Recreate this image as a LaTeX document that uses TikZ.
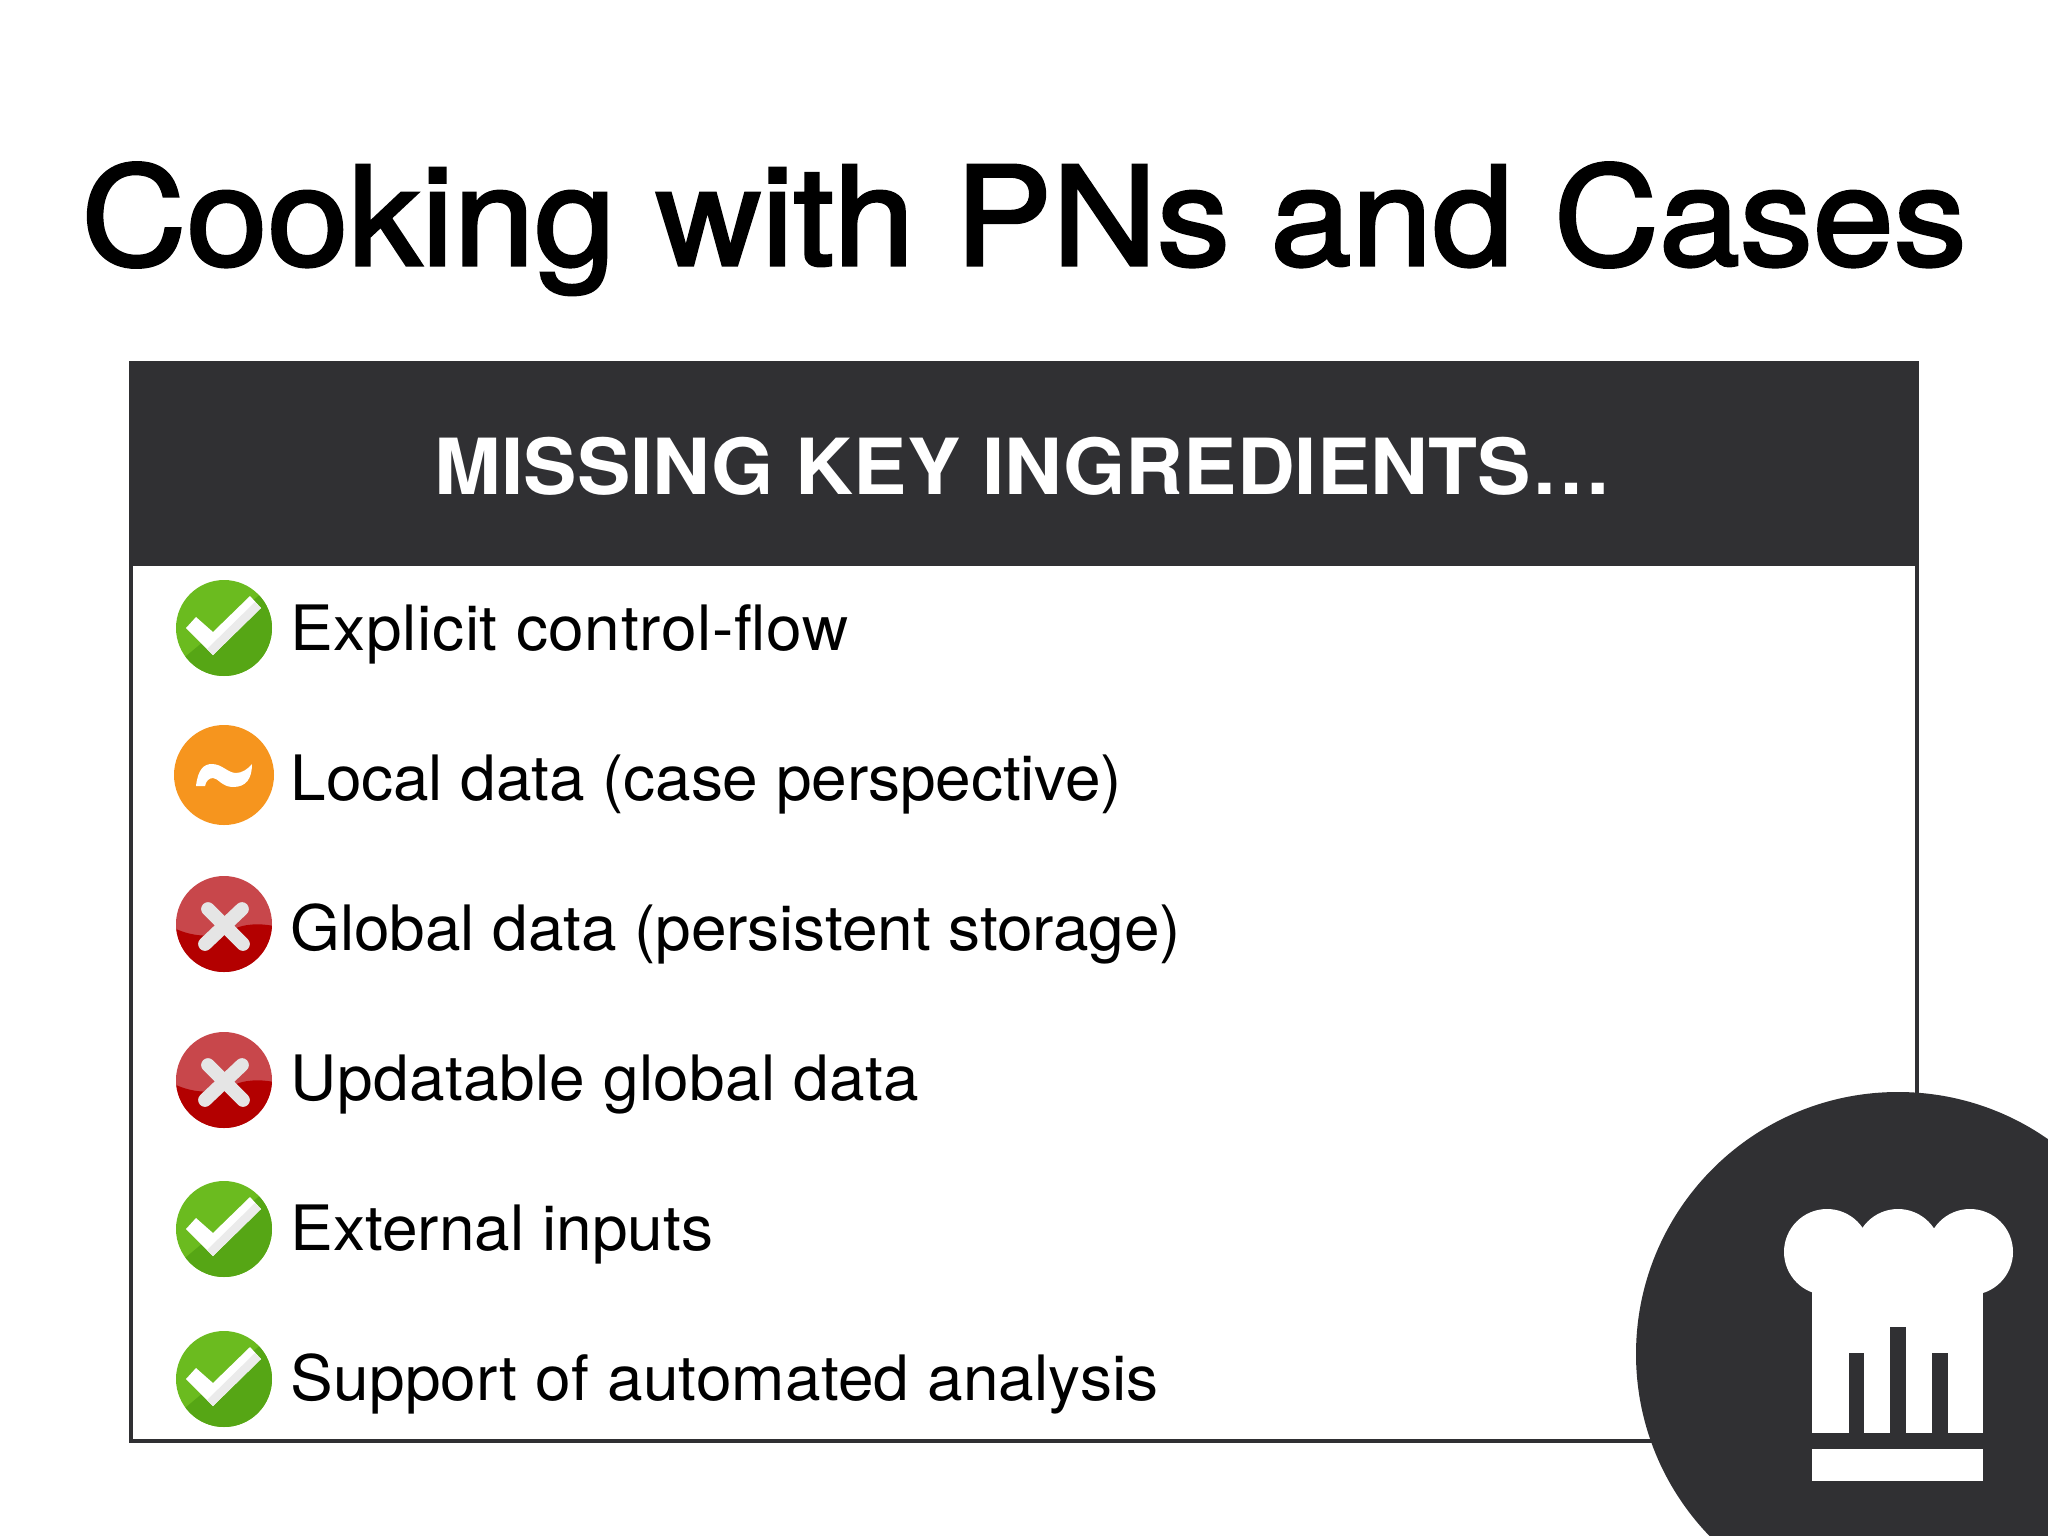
\documentclass[tikz,border=0pt]{standalone}
\usepackage{fontspec}
\setmainfont[FakeStretch=1.022]{TeX Gyre Heros}
\newfontfamily\titlefont[FakeStretch=1.062, FakeBold=2.2]{TeX Gyre Heros}
\newfontfamily\headerfont[FakeStretch=1.035]{TeX Gyre Heros Bold}
\definecolor{chefgray}{HTML}{303033}
\definecolor{okdark}{HTML}{56A615}
\definecolor{oklight}{HTML}{6BBB1F}
\definecolor{halforange}{HTML}{F6951E}
\definecolor{nodark}{HTML}{B30000}
\definecolor{nolight}{HTML}{C8474B}
\tikzset{
  itemtext/.style={anchor=base west, inner sep=0pt, font=\fontsize{17.8}{21}\selectfont},
  okicon/.pic={
    \begin{scope}
      \clip (0,0) circle [radius=48];
      \fill[oklight] (-48,-48) rectangle (48,48);
      \fill[okdark] (-62,48) -- (62,-55) -- (62,62) -- (-62,62) -- cycle;
    \end{scope}
    \fill[white] (-38,0) -- (-28,-11) -- (-11,4) -- (26,-32) -- (37,-20) -- (-11,27) -- cycle;
    \fill[black!8] (-11,27) -- (37,-20) -- (31,-26) -- (-17,21) -- cycle;
  },
  halficon/.pic={
    \fill[halforange] (0,0) circle [radius=50];
    \fill[white] (-28,11) .. controls (-26,-6) and (-20,-11) .. (-12,-11)
      .. controls (-2,-11) and (4,-2) .. (12,-2) .. controls (18,-2) and (24,-6) .. (28,-11)
      .. controls (28,4) and (22,12) .. (9,12) .. controls (-2,12) and (-6,3) .. (-11,3)
      .. controls (-15,3) and (-18,6) .. (-19,11) -- cycle;
  },
  noicon/.pic={
    \fill[nolight] (0,0) circle [radius=48];
    \begin{scope}
      \clip (0,0) circle [radius=48];
      \fill[nodark] (-50,4) .. controls (-30,14) and (-5,14) .. (10,5)
        .. controls (20,0) and (35,-1) .. (50,2) -- (50,50) -- (-50,50) -- cycle;
    \end{scope}
    \draw[black!10, line width=3.9pt, line cap=round] (-16,-15) -- (19,20);
    \draw[black!10, line width=3.9pt, line cap=round] (18,-15) -- (-19,20);
  }
}
\begin{document}
\begin{tikzpicture}[x=0.01cm, y=-0.01cm]
\clip (0,0) rectangle (2048,1536);
\fill[white] (0,0) rectangle (2048,1536);

\node[anchor=base, inner sep=0pt, font=\fontsize{39}{47}\selectfont\titlefont] (title) at (1024,265) {Cooking with PNs and Cases};

% table
\draw[chefgray, line width=1pt] (131,363) rectangle (1917,1441);
\fill[chefgray] (130,363) rectangle (1918,566);
\node[anchor=base, inner sep=0pt, text=white, font=\fontsize{22}{26}\selectfont\headerfont] (header) at (1023,494) {MISSING KEY INGREDIENTS…};

% rows
\pic at (224,628) {okicon};
\node[itemtext] (flow) at (290,650) {\addfontfeature{LetterSpace=1}Explicit control-f\kern0pt low};
\pic at (224,775) {halficon};
\node[itemtext] (local) at (290,800) {\addfontfeature{LetterSpace=-0.2}Local data (case perspective)};
\pic at (224,924) {noicon};
\node[itemtext] (global) at (290,950) {\addfontfeature{LetterSpace=-0.2}Global data (persistent storage)};
\pic at (224,1080) {noicon};
\node[itemtext] (update) at (290,1100) {\addfontfeature{LetterSpace=0.5}Updatable global data};
\pic at (224,1229) {okicon};
\node[itemtext] (inputs) at (290,1250) {External inputs};
\pic at (224,1379) {okicon};
\node[itemtext] (analysis) at (290,1400) {\addfontfeature{LetterSpace=0.3}Support of automated analysis};

% chef hat
\fill[chefgray] (1898,1354) circle [radius=262];
\fill[white] (1827,1252) circle [radius=43];
\fill[white] (1898,1252) circle [radius=43];
\fill[white] (1970,1252) circle [radius=43];
\fill[white] (1812,1250) rectangle (1983,1433);
\fill[chefgray] (1849,1353) rectangle (1864,1433);
\fill[chefgray] (1890,1327) rectangle (1906,1433);
\fill[chefgray] (1932,1353) rectangle (1948,1433);
\fill[white] (1812,1449) rectangle (1983,1481);
\end{tikzpicture}
\end{document}
